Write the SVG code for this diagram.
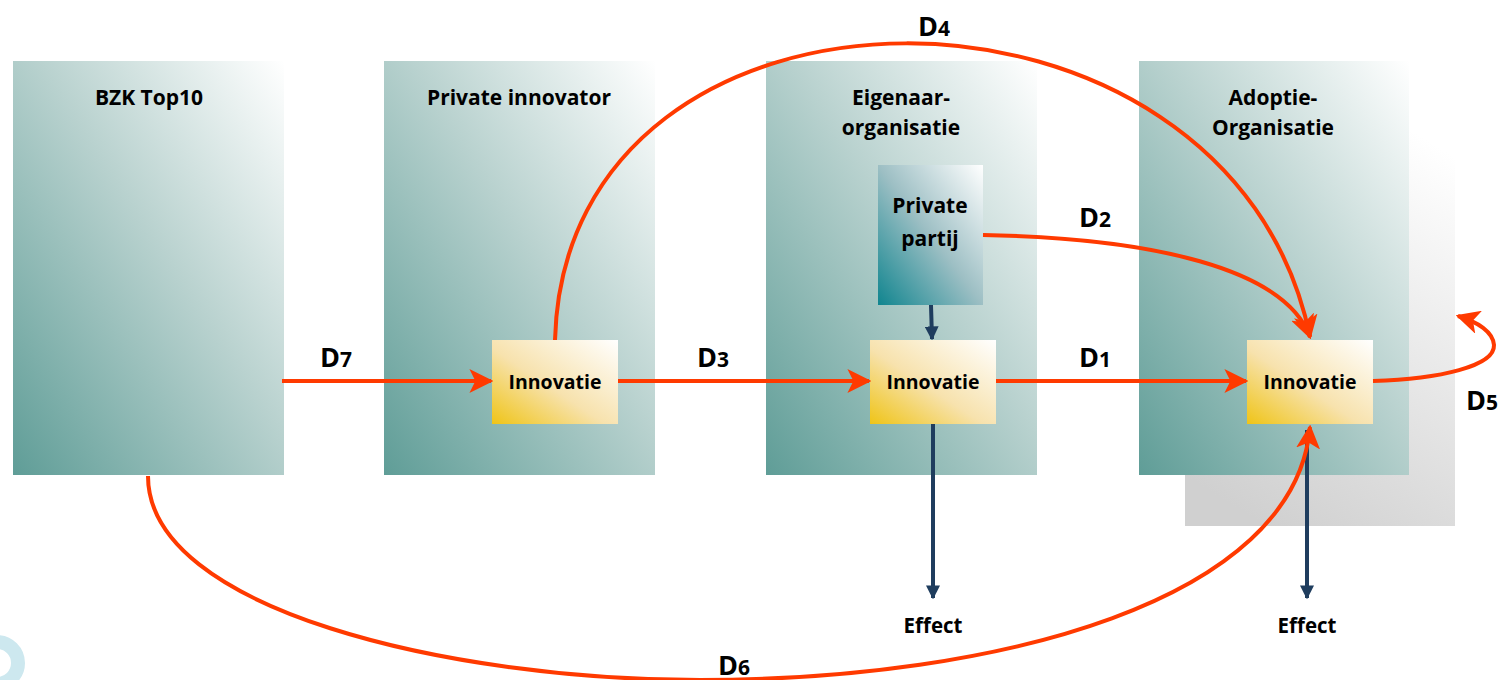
<svg xmlns="http://www.w3.org/2000/svg" width="1504" height="680" viewBox="0 0 1504 680">
<defs>
<linearGradient id="teal" x1="0" y1="1" x2="1" y2="0">
<stop offset="0" stop-color="#5f9d97"/>
<stop offset="0.55" stop-color="#b9d2cf"/>
<stop offset="1" stop-color="#ffffff"/>
</linearGradient>
<linearGradient id="yel" x1="0" y1="1" x2="1" y2="0">
<stop offset="0" stop-color="#efc417"/>
<stop offset="0.45" stop-color="#f7e2ad"/>
<stop offset="1" stop-color="#ffffff"/>
</linearGradient>
<linearGradient id="pp" x1="0" y1="1" x2="1" y2="0">
<stop offset="0" stop-color="#10858f"/>
<stop offset="0.5" stop-color="#9dbfc4"/>
<stop offset="1" stop-color="#ffffff"/>
</linearGradient>
<linearGradient id="gray" x1="0.3" y1="1" x2="0.7" y2="0">
<stop offset="0" stop-color="#d0d0d0"/>
<stop offset="1" stop-color="#ffffff"/>
</linearGradient>
<marker id="red" viewBox="0 0 10 10" refX="9" refY="5" markerWidth="24" markerHeight="24" markerUnits="userSpaceOnUse" orient="auto">
<path d="M0,0 L10,5 L0,10 L2.5,5 Z" fill="#ff3a00"/>
</marker>
<marker id="blue" viewBox="0 0 10 10" refX="9" refY="5" markerWidth="14" markerHeight="14" markerUnits="userSpaceOnUse" orient="auto">
<path d="M0,0 L10,5 L0,10 Z" fill="#1f3d5e"/>
</marker>
</defs>
<style>
text{font-family:"Open Sans","Liberation Sans",sans-serif;font-weight:bold;fill:#000;}
.h{font-size:21px;text-anchor:middle;}
.i{font-size:19.5px;text-anchor:middle;}
.e{font-size:20.5px;text-anchor:middle;}
.d{font-size:27px;}
.d tspan{font-size:21px;}
.r{fill:none;stroke:#ff3a00;stroke-width:4;}
.b{fill:none;stroke:#1f3d5e;stroke-width:4;}
</style>
<rect width="1504" height="680" fill="#fff"/>
<circle cx="-3" cy="663" r="21" fill="none" stroke="#cde8ef" stroke-width="14"/>
<g id="shadow"><rect x="1185" y="107" width="270" height="419" fill="url(#gray)"/></g>
<g id="bzk"><rect x="13" y="61" width="271" height="414" fill="url(#teal)"/><text class="h" x="149" y="105">BZK Top10</text></g>
<g id="privinn"><rect x="384" y="61" width="271" height="414" fill="url(#teal)"/><text class="h" x="519" y="105">Private innovator</text></g>
<g id="eigenaar"><rect x="766" y="61" width="271" height="414" fill="url(#teal)"/><text class="h" x="901" y="105">Eigenaar-</text><text class="h" x="901" y="135">organisatie</text></g>
<g id="adoptie"><rect x="1139" y="61" width="270" height="414" fill="url(#teal)"/><text class="h" x="1273" y="105">Adoptie-</text><text class="h" x="1273" y="135">Organisatie</text></g>
<g id="privpartij"><rect x="878" y="165" width="105" height="140" fill="url(#pp)"/><text class="h" x="930" y="213">Private</text><text class="h" x="930" y="246">partij</text></g>
<g id="inn1"><rect x="492" y="340" width="126" height="84" fill="url(#yel)"/><text class="i" x="555" y="389">Innovatie</text></g>
<g id="inn2"><rect x="870" y="340" width="126" height="84" fill="url(#yel)"/><text class="i" x="933" y="389">Innovatie</text></g>
<g id="inn3"><rect x="1247" y="340" width="126" height="84" fill="url(#yel)"/><text class="i" x="1310" y="389">Innovatie</text></g>
<g id="effect1"><text class="e" x="933" y="633">Effect</text></g>
<g id="effect2"><text class="e" x="1307" y="633">Effect</text></g>
<g id="connectors">
<path class="b" d="M931,305 L932,339" marker-end="url(#blue)"/>
<path class="b" d="M933,424 L933,598" marker-end="url(#blue)"/>
<path class="b" d="M1307,430 L1307,598" marker-end="url(#blue)"/>
<path class="r" d="M282,381 L491,381" marker-end="url(#red)"/>
<path class="r" d="M618,381 L869,381" marker-end="url(#red)"/>
<path class="r" d="M996,381 L1246,381" marker-end="url(#red)"/>
<path class="r" d="M555,340 C565,-55 1230,-55 1310,337" marker-end="url(#red)"/>
<path class="r" d="M983,235 C1150,238 1285,268 1310,337" marker-end="url(#red)"/>
<path class="r" d="M1373,381 C1440,379 1495,366 1494,345 C1493,332 1478,322 1458,316" marker-end="url(#red)"/>
<path class="r" d="M148,476 C148,610 450,680 700,680 C1000,680 1295,600 1310,427" marker-end="url(#red)"/>
</g>
<g id="labels">
<text class="d" x="320" y="367">D<tspan>7</tspan></text>
<text class="d" x="697" y="367">D<tspan>3</tspan></text>
<text class="d" x="1079" y="367">D<tspan>1</tspan></text>
<text class="d" x="1079" y="227">D<tspan>2</tspan></text>
<text class="d" x="918" y="36">D<tspan>4</tspan></text>
<text class="d" x="1466" y="410">D<tspan>5</tspan></text>
<text class="d" x="718" y="675">D<tspan>6</tspan></text>
</g>
</svg>
